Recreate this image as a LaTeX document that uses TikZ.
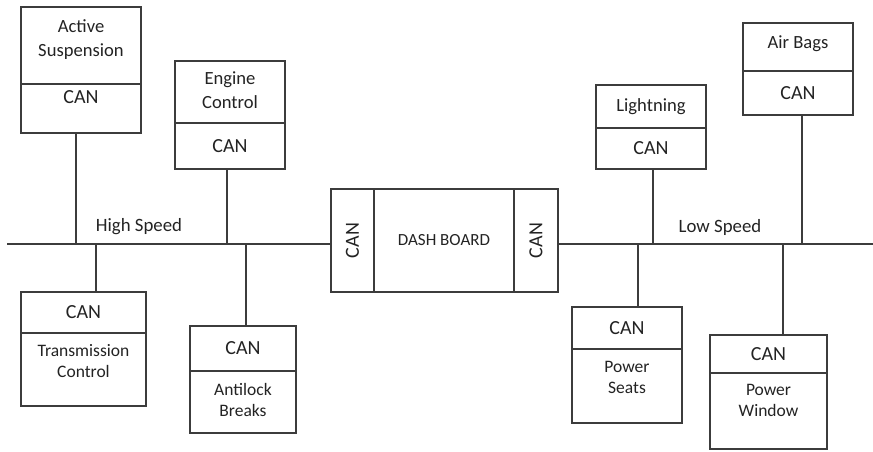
\documentclass[tikz,border=0pt]{standalone}
\usepackage{fontspec}
\setmainfont{Carlito}
\usetikzlibrary{positioning}
\definecolor{linegray}{RGB}{60,60,60}
\definecolor{textgray}{RGB}{35,35,35}
\newcommand{\nm}[2][0pt]{\raisebox{#1}[\height][\depth]{\begin{tabular}{@{}c@{}}#2\end{tabular}}}
\newcommand{\can}{{\fontsize{20}{24}\selectfont CAN}}

\begin{document}
\begin{tikzpicture}[x=1pt,y=-1pt,
  unit/.style={draw=linegray,line width=1.3pt,outer sep=0pt,inner sep=0pt,text=textgray,font=\fontsize{18.6}{24}\selectfont},
  subunit/.style={unit,font=\fontsize{17.5}{21}\selectfont},
  wire/.style={draw=linegray,line width=1.3pt},
  buslabel/.style={text=textgray,font=\fontsize{18.8}{22}\selectfont}]
  \useasboundingbox (0,0) rectangle (873,451);
  % bus
  \coordinate (busL) at (7,244);
  \coordinate (busR) at (873,244);
  % dash board
  \node[unit,minimum width=140pt,minimum height=103pt,font=\fontsize{17}{20}\selectfont] (dash) at (444,240.5) {DASH BOARD};
  \node[unit,minimum width=43pt,minimum height=103pt,left=0pt of dash] (canL) {\rotatebox{90}{\can}};
  \node[unit,minimum width=44pt,minimum height=103pt,right=0pt of dash] (canR) {\rotatebox{90}{\can}};
  \draw[wire] (busL) -- (busL -| canL.west);
  \draw[wire] (busR -| canR.east) -- (busR);
  \node[buslabel] (hs) at (139,227) {High Speed};
  \node[buslabel] (ls) at (720,227) {Low Speed};
  % units above the bus
  \node[unit,minimum width=120pt,minimum height=77pt] (suspN) at (81,45.5) {\nm[6pt]{Active\\Suspension}};
  \node[unit,minimum width=120pt,minimum height=49pt,below=0pt of suspN] (suspC) {\nm[10pt]{\can}};
  \node[unit,minimum width=110pt,minimum height=62pt] (engN) at (230,92) {\nm{Engine\\Control}};
  \node[unit,minimum width=110pt,minimum height=46pt,below=0pt of engN] (engC) {\can};
  \node[unit,minimum width=110pt,minimum height=43pt] (lightN) at (651,106.5) {Lightning};
  \node[unit,minimum width=110pt,minimum height=41pt,below=0pt of lightN] (lightC) {\can};
  \node[unit,minimum width=110pt,minimum height=48pt] (bagN) at (798,47) {\nm[3pt]{Air Bags}};
  \node[unit,minimum width=110pt,minimum height=44pt,below=0pt of bagN] (bagC) {\can};
  % units below the bus
  \node[unit,minimum width=125pt,minimum height=41pt] (transC) at (83.5,312.5) {\can};
  \node[subunit,minimum width=125pt,minimum height=73pt,below=0pt of transC] (transN) {\nm[7pt]{Transmission\\Control}};
  \node[unit,minimum width=106pt,minimum height=45pt] (absC) at (243,348.5) {\can};
  \node[subunit,minimum width=106pt,minimum height=62pt,below=0pt of absC] (absN) {\nm{Antilock\\Breaks}};
  \node[unit,minimum width=110pt,minimum height=42pt] (seatC) at (627,328) {\can};
  \node[subunit,minimum width=110pt,minimum height=74pt,below=0pt of seatC] (seatN) {\nm[7pt]{Power\\Seats}};
  \node[unit,minimum width=117pt,minimum height=38pt] (winC) at (768.5,354) {\can};
  \node[subunit,minimum width=117pt,minimum height=76pt,below=0pt of winC] (winN) {\nm[9pt]{Power\\Window}};
  % taps on the bus
  \coordinate (tapA) at (76,244);
  \coordinate (tapB) at (96,244);
  \coordinate (tapC) at (227,244);
  \coordinate (tapD) at (246,244);
  \coordinate (tapE) at (638,244);
  \coordinate (tapF) at (653,244);
  \coordinate (tapG) at (783,244);
  \coordinate (tapH) at (802,244);
  \foreach \u/\t in {suspC/tapA,engC/tapC,lightC/tapF,bagC/tapH}
    \draw[wire] (\u.south -| \t) -- (\t);
  \foreach \u/\t in {transC/tapB,absC/tapD,seatC/tapE,winC/tapG}
    \draw[wire] (\t) -- (\t |- \u.north);
\end{tikzpicture}
\end{document}
